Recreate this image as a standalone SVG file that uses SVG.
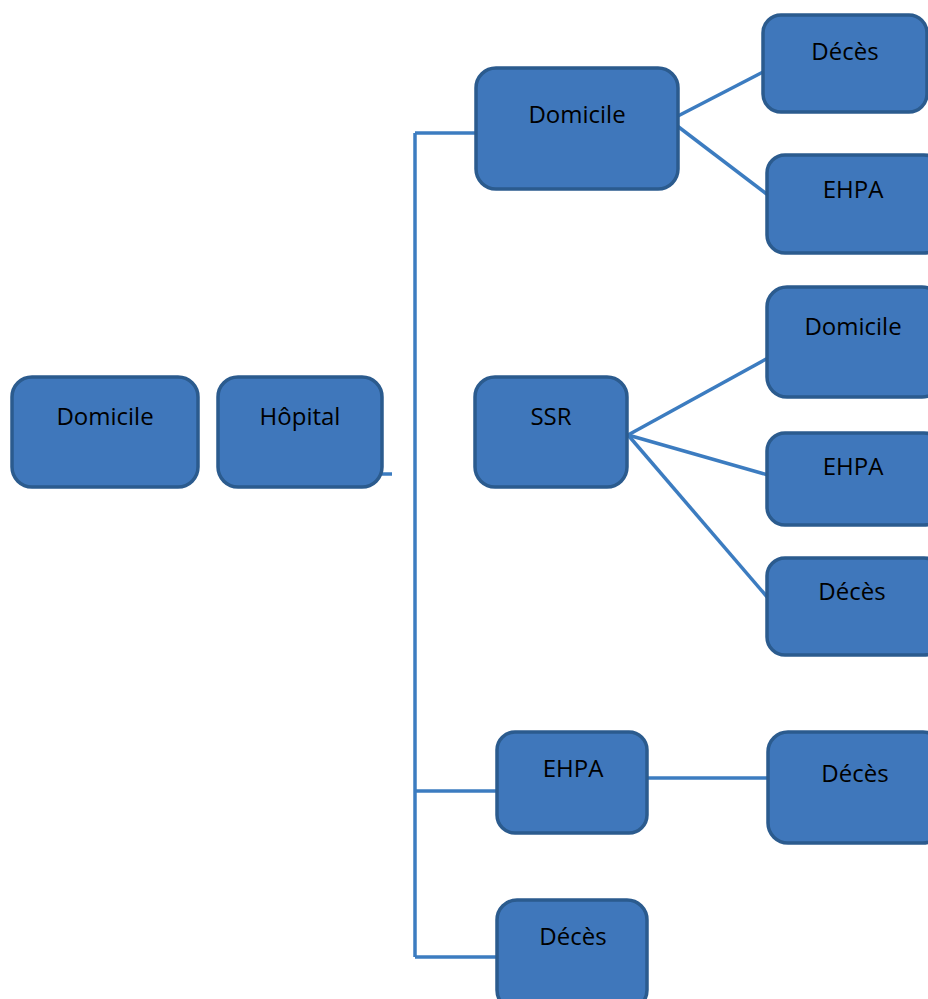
<svg xmlns="http://www.w3.org/2000/svg" width="928" height="999" viewBox="0 0 928 999">
<style>
.n{fill:#3F77BB;stroke:#2B5B8E;stroke-width:3.5}
.t{font-family:"Open Sans","Liberation Sans",sans-serif;font-size:24px;fill:#000000;text-anchor:middle}
.c{fill:none;stroke:#3C7CC0;stroke-width:3.5}
</style>
<rect width="928" height="999" fill="#ffffff"/>
<g id="connectors">
<path class="c" d="M382 474H392" stroke-width="5"/>
<path class="c" d="M415 133V957"/>
<path class="c" d="M415 133H477"/>
<path class="c" d="M415 791H498"/>
<path class="c" d="M415 957H498"/>
<path class="c" d="M676 117L763 72"/>
<path class="c" d="M676 125L768 195"/>
<path class="c" d="M628 435L768 358"/>
<path class="c" d="M628 435L768 475"/>
<path class="c" d="M628 435L768 598"/>
<path class="c" d="M647 778H768"/>
</g>
<g id="n1"><rect class="n" x="12" y="377" width="186" height="110" rx="20"/><text class="t" x="105" y="425">Domicile</text></g>
<g id="n2"><rect class="n" x="218" y="377" width="164" height="110" rx="20"/><text class="t" x="300" y="425">Hôpital</text></g>
<g id="n3"><rect class="n" x="476" y="68" width="202" height="121" rx="20"/><text class="t" x="577" y="123">Domicile</text></g>
<g id="n4"><rect class="n" x="763" y="15" width="164" height="97" rx="18"/><text class="t" x="845" y="60">Décès</text></g>
<g id="n5"><rect class="n" x="767" y="155" width="175" height="98" rx="18"/><text class="t" x="853" y="198">EHPA</text></g>
<g id="n6"><rect class="n" x="475" y="377" width="152" height="110" rx="20"/><text class="t" x="551" y="425">SSR</text></g>
<g id="n7"><rect class="n" x="767" y="287" width="175" height="110" rx="20"/><text class="t" x="853" y="335">Domicile</text></g>
<g id="n8"><rect class="n" x="767" y="433" width="175" height="92" rx="18"/><text class="t" x="853" y="475">EHPA</text></g>
<g id="n9"><rect class="n" x="767" y="558" width="175" height="97" rx="18"/><text class="t" x="852" y="600">Décès</text></g>
<g id="n10"><rect class="n" x="497" y="732" width="150" height="101" rx="18"/><text class="t" x="573" y="777">EHPA</text></g>
<g id="n11"><rect class="n" x="768" y="732" width="175" height="111" rx="20"/><text class="t" x="855" y="782">Décès</text></g>
<g id="n12"><rect class="n" x="497" y="900" width="150" height="110" rx="20"/><text class="t" x="573" y="945">Décès</text></g>
</svg>
